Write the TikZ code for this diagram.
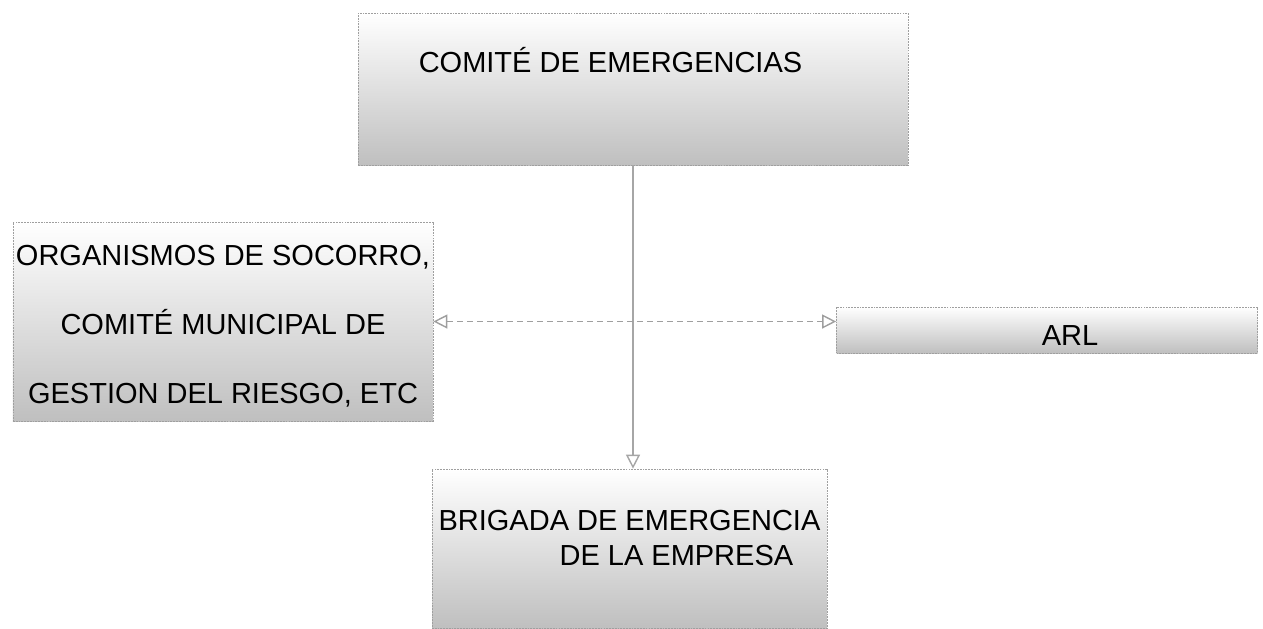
\documentclass[tikz,border=0pt]{standalone}
\usepackage{fontspec}
\setmainfont{Liberation Sans}
\usetikzlibrary{positioning,arrows.meta}
\begin{document}
\begin{tikzpicture}[x=0.2mm,y=-0.2mm,>={Triangle[open,length=2.8mm,width=2.8mm]},bx/.style={draw=gray!75,dash pattern=on 1pt off 0.6pt,top color=white,bottom color=gray!50,inner sep=0pt,font=\fontsize{16.5}{19.5}\selectfont},ar/.style={->,draw=gray!70,thick},da/.style={<->,draw=gray!75,thick,dash pattern=on 1.2mm off 0.8mm}]
\useasboundingbox (0,0) rectangle (1263,628);
\node[bx,minimum width=110mm,text height=11.8mm,text depth=18.6mm](com) at (633,89){COMITÉ DE EMERGENCIAS\hspace*{9mm}};
\node[bx,align=center,minimum width=84mm,text height=36.2mm,text depth=3.6mm](org) at (223,321.5){ORGANISMOS DE SOCORRO,\\[19.3pt]COMITÉ MUNICIPAL DE\\[19.7pt]GESTION DEL RIESGO, ETC};
\node[bx,minimum width=84.2mm,text height=7.6mm,text depth=1.6mm](arl) at (1047,330){\hspace*{9.2mm}ARL};
\node[bx,align=left,minimum width=79mm,text height=19.2mm,text depth=12.6mm](brig) at (629.5,548.5){BRIGADA DE EMERGENCIA\\\hspace*{24.2mm}DE LA EMPRESA};
\draw[ar](com.south)--(com.south|-brig.north);
\draw[da](org.east)--(org.east-|arl.west);
\end{tikzpicture}
\end{document}
